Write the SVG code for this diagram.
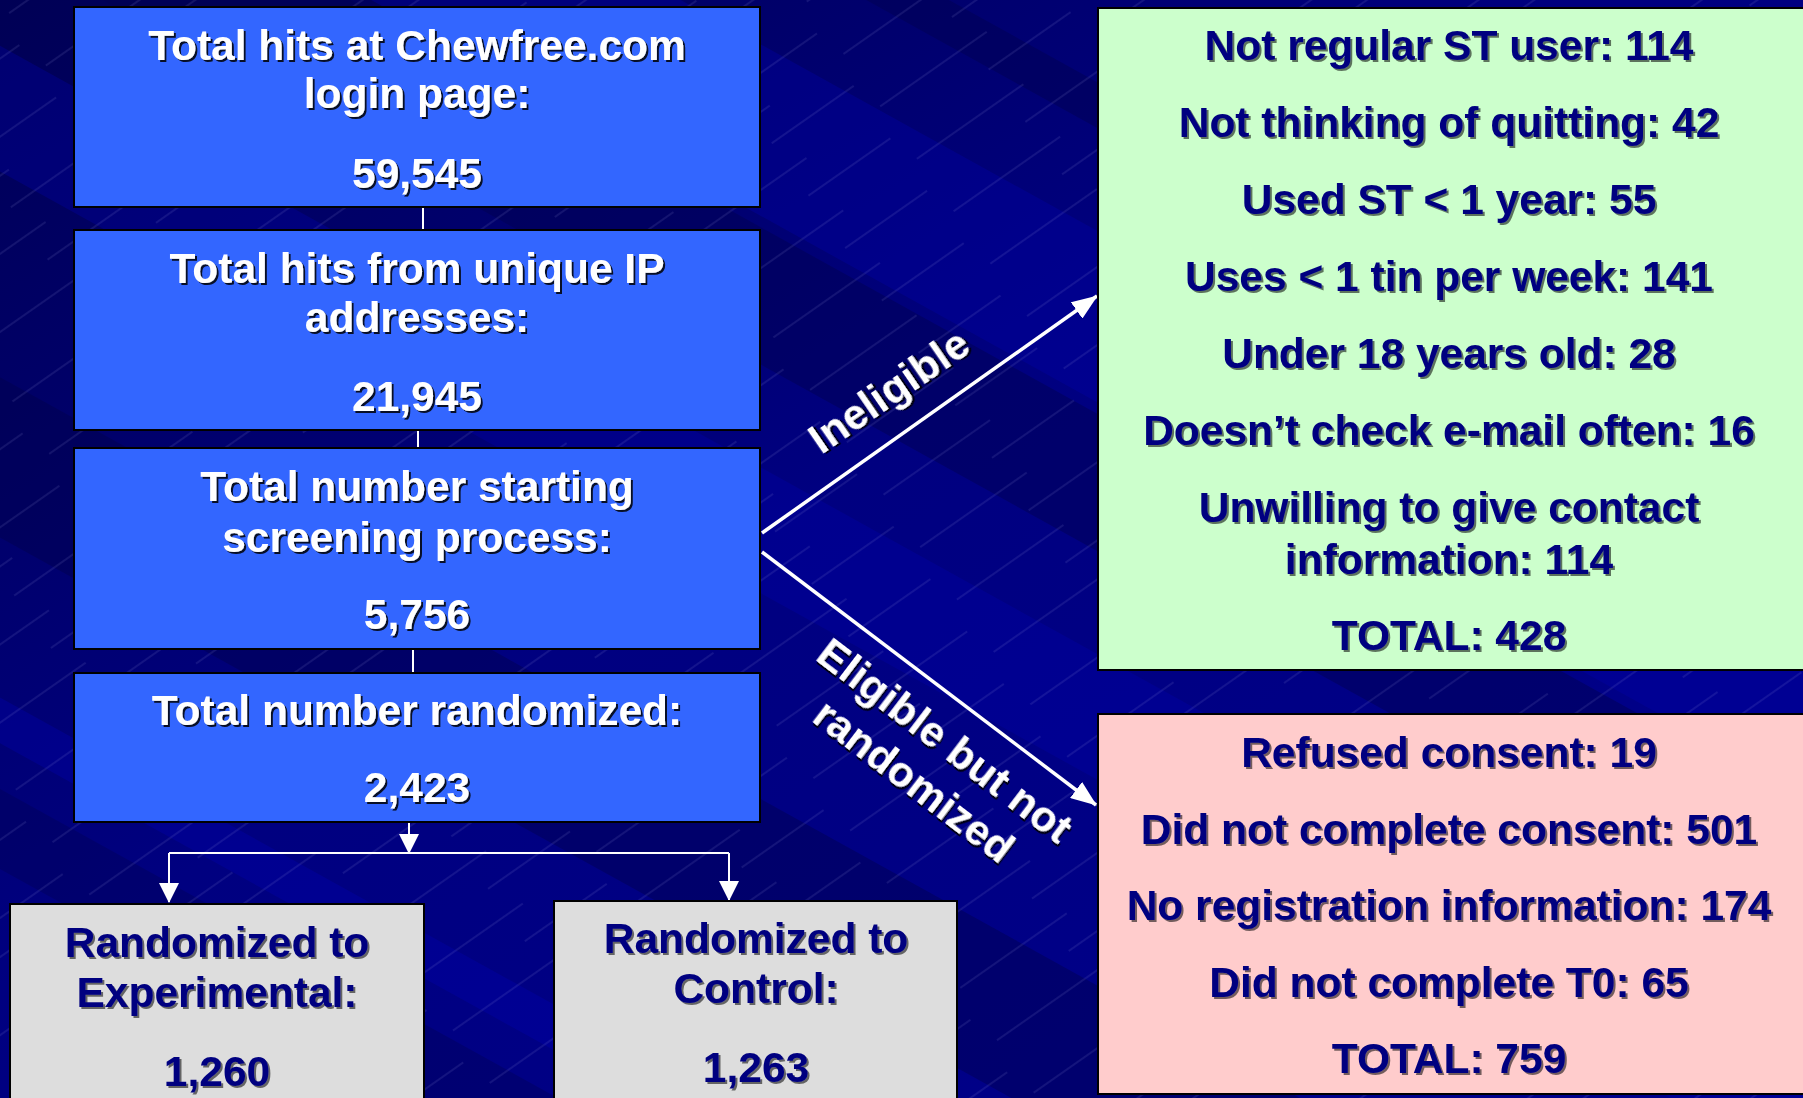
<svg xmlns="http://www.w3.org/2000/svg" width="1803" height="1098" viewBox="0 0 1803 1098">
<defs>
<style>
.t{font-family:"Liberation Sans",Arial,sans-serif;font-weight:bold;font-size:42.5px;text-anchor:middle}
.w{fill:#ffffff;filter:url(#sh)}
.n{fill:#000080;filter:url(#sh2)}
.blue{fill:#3366ff;stroke:#000000;stroke-width:2}
.conn{stroke:#ffffff;stroke-width:2;fill:none}
.diag{stroke:#ffffff;stroke-width:3.5;fill:none}
</style>
<filter id="sh" x="-5%" y="-20%" width="110%" height="140%">
<feDropShadow dx="2" dy="2" stdDeviation="0" flood-color="#000000" flood-opacity="0.85"/>
</filter>
<filter id="sh2" x="-5%" y="-20%" width="110%" height="140%">
<feDropShadow dx="2" dy="2" stdDeviation="0" flood-color="#000000" flood-opacity="0.55"/>
</filter>
<pattern id="hatch" patternUnits="userSpaceOnUse" width="220" height="64" patternTransform="rotate(-35)">
<line x1="0" y1="16" x2="130" y2="16" stroke="#a0a0e0" stroke-width="0.9" stroke-opacity="0.28"/>
<line x1="110" y1="48" x2="210" y2="48" stroke="#a0a0e0" stroke-width="0.9" stroke-opacity="0.28"/>
</pattern>
<linearGradient id="bg" x1="0" y1="0" x2="1" y2="1">
<stop offset="0" stop-color="#000055"/>
<stop offset="0.45" stop-color="#000080"/>
<stop offset="1" stop-color="#00008c"/>
</linearGradient>
<marker id="ah" viewBox="0 0 20 20" refX="19" refY="10" markerWidth="20" markerHeight="20" markerUnits="userSpaceOnUse" orient="auto">
<path d="M0,0 L20,10 L0,20 Z" fill="#ffffff"/>
</marker>
<marker id="ahd" viewBox="0 0 26 20" refX="25" refY="10" markerWidth="26" markerHeight="20" markerUnits="userSpaceOnUse" orient="auto">
<path d="M0,0 L26,10 L0,20 Z" fill="#ffffff"/>
</marker>
</defs>

<g id="background">
<rect x="0" y="0" width="1803" height="1098" fill="url(#bg)"/>
<g transform="rotate(29)">
<rect x="-800" y="-460" width="3500" height="40" fill="#000050" opacity="0.45"/>
<rect x="-800" y="-330" width="3500" height="150" fill="#0000a8" opacity="0.35"/>
<rect x="-800" y="-170" width="3500" height="120" fill="#000050" opacity="0.45"/>
<rect x="-800" y="40" width="3500" height="110" fill="#0000b0" opacity="0.3"/>
<rect x="-800" y="330" width="3500" height="140" fill="#000048" opacity="0.4"/>
<rect x="-800" y="610" width="3500" height="40" fill="#0000b0" opacity="0.35"/>
<rect x="-800" y="690" width="3500" height="70" fill="#000050" opacity="0.35"/>
</g>
<rect x="0" y="0" width="1803" height="1098" fill="url(#hatch)"/>
</g>

<g id="connectors">
<line class="conn" x1="423" y1="207" x2="423" y2="230"/>
<line class="conn" x1="418" y1="430" x2="418" y2="448"/>
<line class="conn" x1="413" y1="649" x2="413" y2="673"/>
<line class="conn" x1="409" y1="822" x2="409" y2="853" marker-end="url(#ah)"/>
<polyline class="conn" points="169,853 729,853"/>
<line class="conn" x1="169" y1="853" x2="169" y2="902" marker-end="url(#ah)"/>
<line class="conn" x1="729" y1="853" x2="729" y2="900" marker-end="url(#ah)"/>
<line class="diag" x1="762" y1="533" x2="1097" y2="296" marker-end="url(#ahd)"/>
<line class="diag" x1="762" y1="552" x2="1096" y2="805" marker-end="url(#ahd)"/>
<g transform="translate(897,403) rotate(-34.5)">
<text class="t w" x="0" y="0">Ineligible</text>
</g>
<g transform="translate(936,752) rotate(37.3)">
<text class="t w" x="0" y="0">Eligible but not</text>
<text class="t w" x="0" y="51">randomized</text>
</g>
</g>

<g id="node-hits">
<rect class="blue" x="74" y="7" width="686" height="200"/>
<text class="t w" x="417" y="60">Total hits at Chewfree.com</text>
<text class="t w" x="417" y="108">login page:</text>
<text class="t w" x="417" y="188">59,545</text>
</g>
<g id="node-unique">
<rect class="blue" x="74" y="230" width="686" height="200"/>
<text class="t w" x="417" y="283">Total hits from unique IP</text>
<text class="t w" x="417" y="332">addresses:</text>
<text class="t w" x="417" y="411">21,945</text>
</g>
<g id="node-screening">
<rect class="blue" x="74" y="448" width="686" height="201"/>
<text class="t w" x="417" y="501">Total number starting</text>
<text class="t w" x="417" y="552">screening process:</text>
<text class="t w" x="417" y="629">5,756</text>
</g>
<g id="node-randomized">
<rect class="blue" x="74" y="673" width="686" height="149"/>
<text class="t w" x="417" y="725">Total number randomized:</text>
<text class="t w" x="417" y="802">2,423</text>
</g>
<g id="node-experimental">
<rect x="10" y="904" width="414" height="210" fill="#dddddd" stroke="#000000" stroke-width="2"/>
<text class="t n" x="217" y="957">Randomized to</text>
<text class="t n" x="217" y="1007">Experimental:</text>
<text class="t n" x="217" y="1086">1,260</text>
</g>
<g id="node-control">
<rect x="554" y="901" width="403" height="210" fill="#dddddd" stroke="#000000" stroke-width="2"/>
<text class="t n" x="756" y="953">Randomized to</text>
<text class="t n" x="756" y="1003">Control:</text>
<text class="t n" x="756" y="1082">1,263</text>
</g>
<g id="node-ineligible">
<rect x="1098" y="8" width="710" height="662" fill="#ccffcc" stroke="#000000" stroke-width="2"/>
<text class="t n" x="1449" y="60">Not regular ST user: 114</text>
<text class="t n" x="1449" y="137">Not thinking of quitting: 42</text>
<text class="t n" x="1449" y="214">Used ST &lt; 1 year: 55</text>
<text class="t n" x="1449" y="291">Uses &lt; 1 tin per week: 141</text>
<text class="t n" x="1449" y="368">Under 18 years old: 28</text>
<text class="t n" x="1449" y="445">Doesn’t check e-mail often: 16</text>
<text class="t n" x="1449" y="522">Unwilling to give contact</text>
<text class="t n" x="1449" y="574">information: 114</text>
<text class="t n" x="1449" y="650">TOTAL: 428</text>
</g>
<g id="node-notrandomized">
<rect x="1098" y="714" width="710" height="380" fill="#ffcccc" stroke="#000000" stroke-width="2"/>
<text class="t n" x="1449" y="767">Refused consent: 19</text>
<text class="t n" x="1449" y="844">Did not complete consent: 501</text>
<text class="t n" x="1449" y="920">No registration information: 174</text>
<text class="t n" x="1449" y="997">Did not complete T0: 65</text>
<text class="t n" x="1449" y="1073">TOTAL: 759</text>
</g>
</svg>
